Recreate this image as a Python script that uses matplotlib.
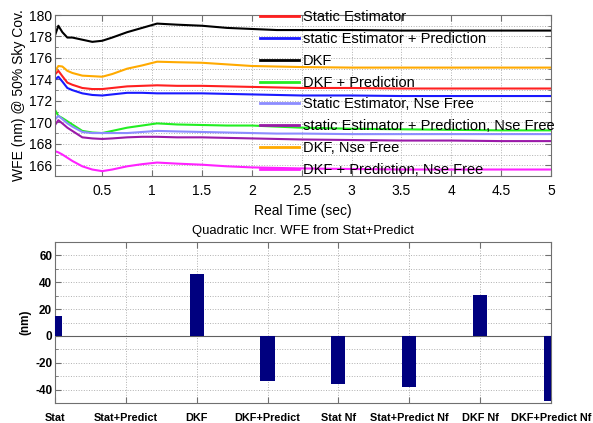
import matplotlib
matplotlib.use("Agg")
import matplotlib.pyplot as plt
from matplotlib.ticker import MultipleLocator

plt.rcParams['font.family'] = ['Liberation Sans', 'DejaVu Sans']

# ---- top panel data (time in sec, WFE in nm) ----
t = [0.03, 0.06, 0.1, 0.15, 0.2, 0.3, 0.4, 0.5, 0.6, 0.75, 0.9, 1.05, 1.25, 1.5, 1.75, 2.0, 2.25, 2.5, 3.0, 3.5, 4.0, 4.5, 5.0]

dkf =            [178.2, 179.0, 178.4, 177.9, 177.9, 177.7, 177.5, 177.6, 177.9, 178.4, 178.8, 179.2, 179.1, 179.0, 178.8, 178.7, 178.6, 178.6, 178.6, 178.55, 178.55, 178.55, 178.55]
dkf_nf =         [174.8, 175.25, 175.2, 174.8, 174.6, 174.35, 174.3, 174.25, 174.5, 175.0, 175.3, 175.65, 175.6, 175.55, 175.4, 175.25, 175.2, 175.15, 175.1, 175.1, 175.1, 175.1, 175.1]
static_est =     [174.5, 174.8, 174.3, 173.7, 173.5, 173.2, 173.1, 173.1, 173.2, 173.35, 173.4, 173.45, 173.4, 173.4, 173.35, 173.3, 173.25, 173.2, 173.2, 173.15, 173.15, 173.15, 173.15]
static_pred =    [174.0, 174.25, 173.8, 173.2, 173.0, 172.7, 172.55, 172.5, 172.6, 172.75, 172.75, 172.7, 172.7, 172.7, 172.65, 172.6, 172.55, 172.5, 172.5, 172.45, 172.45, 172.45, 172.45]
dkf_pred =       [171.1, 170.6, 170.4, 170.1, 169.8, 169.2, 169.05, 169.0, 169.2, 169.5, 169.7, 169.9, 169.8, 169.75, 169.7, 169.7, 169.6, 169.5, 169.4, 169.35, 169.3, 169.25, 169.25]
static_nf =      [170.3, 170.6, 170.3, 169.9, 169.6, 169.1, 169.0, 169.0, 169.0, 169.0, 169.1, 169.2, 169.15, 169.1, 169.05, 169.0, 168.95, 168.95, 168.9, 168.9, 168.9, 168.9, 168.9]
static_pred_nf = [169.8, 170.2, 169.9, 169.5, 169.2, 168.6, 168.5, 168.45, 168.5, 168.6, 168.65, 168.65, 168.6, 168.6, 168.55, 168.5, 168.45, 168.4, 168.35, 168.3, 168.3, 168.25, 168.25]
dkf_pred_nf =    [167.3, 167.2, 167.0, 166.7, 166.4, 165.9, 165.6, 165.45, 165.6, 165.9, 166.1, 166.25, 166.15, 166.05, 165.9, 165.8, 165.75, 165.7, 165.65, 165.6, 165.6, 165.6, 165.6]

labels = ["Static Estimator", "static Estimator + Prediction", "DKF", "DKF + Prediction",
          "Static Estimator, Nse Free", "static Estimator + Prediction, Nse Free",
          "DKF, Nse Free", "DKF + Prediction, Nse Free"]
series = [static_est, static_pred, dkf, dkf_pred, static_nf, static_pred_nf, dkf_nf, dkf_pred_nf]
colors = ["#ff2020", "#1a1aff", "#000000", "#22ee22", "#8c8cff", "#9a1aa8", "#ffaa00", "#ff22ff"]

# ---- bottom panel data ----
bar_cats = ["Stat", "Stat+Predict", "DKF", "DKF+Predict", "Stat Nf", "Stat+Predict Nf", "DKF Nf", "DKF+Predict Nf"]
bar_vals = [15.2, 0.0, 46.3, -33.5, -35.6, -38.2, 30.3, -48.7]

fig = plt.figure(figsize=(5.93, 4.23), dpi=100)
spine_col = "#707070"

ax1 = fig.add_axes([0.0927, 0.584, 0.8364, 0.3805])
for s, c, lab in zip(series, colors, labels):
    ax1.plot(t, s, color=c, lw=1.5, label=lab)
ax1.set_xlim(0.026, 5)
ax1.set_ylim(165, 180)
ax1.yaxis.set_major_locator(MultipleLocator(2))
ax1.yaxis.set_minor_locator(MultipleLocator(1))
ax1.set_xticks([0.5, 1, 1.5, 2, 2.5, 3, 3.5, 4, 4.5, 5])
ax1.set_xticklabels(["0.5", "1", "1.5", "2", "2.5", "3", "3.5", "4", "4.5", "5"])
ax1.grid(True, which="both", ls=":", color="#b0b0b0", lw=0.7)
ax1.tick_params(which="both", direction="in", top=True, right=True, labelsize=10, color=spine_col)
ax1.tick_params(axis="y", pad=2)
ax1.tick_params(axis="x", pad=6)
ax1.tick_params(which="major", length=4)
ax1.tick_params(which="minor", length=2.5)
for sp in ax1.spines.values():
    sp.set_color(spine_col)
ax1.set_xlabel("Real Time (sec)", fontsize=10, labelpad=4)
ax1.set_ylabel("WFE (nm) @ 50% Sky Cov.", fontsize=10, labelpad=2)
leg = ax1.legend(loc="upper left", bbox_to_anchor=(260 / 593, 1 - 10 / 423), bbox_transform=fig.transFigure,
                 frameon=False, fontsize=10.5, handlelength=2.7, handletextpad=0.25, labelspacing=0.54,
                 borderpad=0, borderaxespad=0)
for h in leg.get_lines():
    h.set_linewidth(2.0)

ax2 = fig.add_axes([0.0927, 0.047, 0.8364, 0.381])
xpos = list(range(1, len(bar_cats) + 1))
ax2.bar(xpos, bar_vals, width=0.2, color="#00007f", edgecolor="none", zorder=3)
ax2.axhline(0, color="#606060", lw=0.8, zorder=2)
ax2.set_xlim(1, 8)
ax2.set_ylim(-50, 70)
ax2.set_xticks(xpos)
ax2.set_xticklabels(bar_cats, fontsize=7.8, fontweight="bold")
ax2.set_yticks([-40, -20, 0, 20, 40, 60])
ax2.set_yticklabels(["-40", "-20", "0", "20", "40", "60"], fontsize=8.5, fontweight="bold")
ax2.yaxis.set_minor_locator(MultipleLocator(10))
ax2.grid(True, which="both", ls=":", color="#b0b0b0", lw=0.7)
ax2.tick_params(which="both", direction="in", top=True, right=True, color=spine_col)
ax2.tick_params(axis="y", pad=2)
ax2.tick_params(axis="x", pad=7)
ax2.tick_params(which="major", length=4)
ax2.tick_params(which="minor", length=2.5)
for sp in ax2.spines.values():
    sp.set_color(spine_col)
ax2.set_ylabel("(nm)", fontsize=8.5, fontweight="bold", labelpad=3)
ax2.set_title("Quadratic Incr. WFE from Stat+Predict", fontsize=9.4, pad=6)

fig.savefig("out.png", dpi=100)
